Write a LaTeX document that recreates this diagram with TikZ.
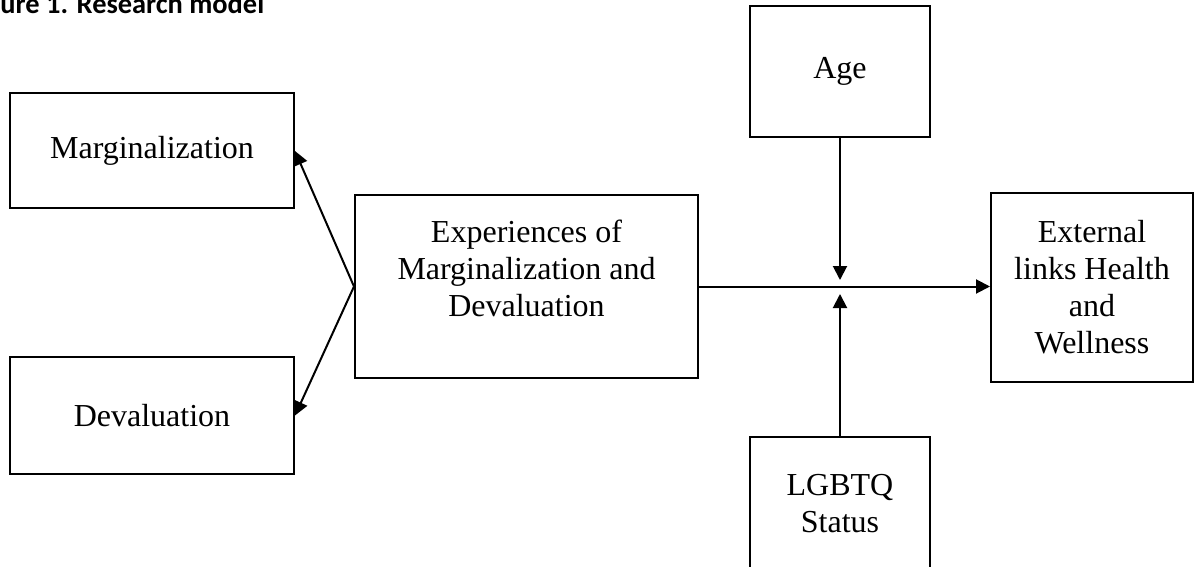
\documentclass[tikz,border=0pt]{standalone}
\usepackage{fontspec}
\setmainfont{Liberation Serif}
\newfontfamily\capfont{Carlito}
\usepackage{tikz}
\usetikzlibrary{calc, positioning}
\usetikzlibrary{arrows.meta}
\tikzset{>={Triangle[length=7pt,width=7pt]}}

\begin{document}
\begin{tikzpicture}[x=0.5pt, y=-0.5pt,
	box/.style={draw, line width=1pt, align=center, inner sep=0pt,
		font=\fontsize{16}{18.5}\selectfont},
	link/.style={->, line width=1pt}]
	\useasboundingbox (0,0) rectangle (1195,567);
	% title, cut at the left edge
	\node[anchor=base west, inner sep=0pt, font=\capfont\bfseries\fontsize{14.2}{17}\selectfont] (caption) at (0,14) {\llap{Fig}ure 1. Research model};
	% boxes
	\node[box, minimum width=142pt, minimum height=57.5pt] (marg) at (152,151) {Marginalization};
	\node[box, minimum width=142pt, minimum height=58.5pt] (deval) at (152,415.5) {Devaluation};
	\node[box, minimum width=171.5pt, minimum height=91.5pt] (exper) at (526.5,286.5) {};
	\node[align=center, anchor=north, inner sep=0pt, font=\fontsize{16}{18.5}\selectfont] (expertxt) at (526.5,220) {Experiences of\\Marginalization and\\Devaluation};
	\node[box, minimum width=90pt, minimum height=65.5pt] (age) at (840,71.5) {Age};
	\node[box, minimum width=90pt, minimum height=67pt] (lgbtq) at (840,504) {LGBTQ\\Status};
	\node[box, minimum width=101pt, minimum height=94.5pt] (ext) at (1092,287.5) {External\\links Health\\and\\Wellness};
	\coordinate (agetip) at (840,280);
	\coordinate (lgbtqtip) at (840,294);
	% arrows
	\draw[link] (exper.west) -- (marg.east);
	\draw[link] (exper.west) -- (deval.east);
	\draw[link] (exper.east) -- (exper.east -| ext.west);
	\draw[link] (age.south) -- (agetip);
	\draw[link] (lgbtq.north) -- (lgbtqtip);
\end{tikzpicture}
\end{document}
